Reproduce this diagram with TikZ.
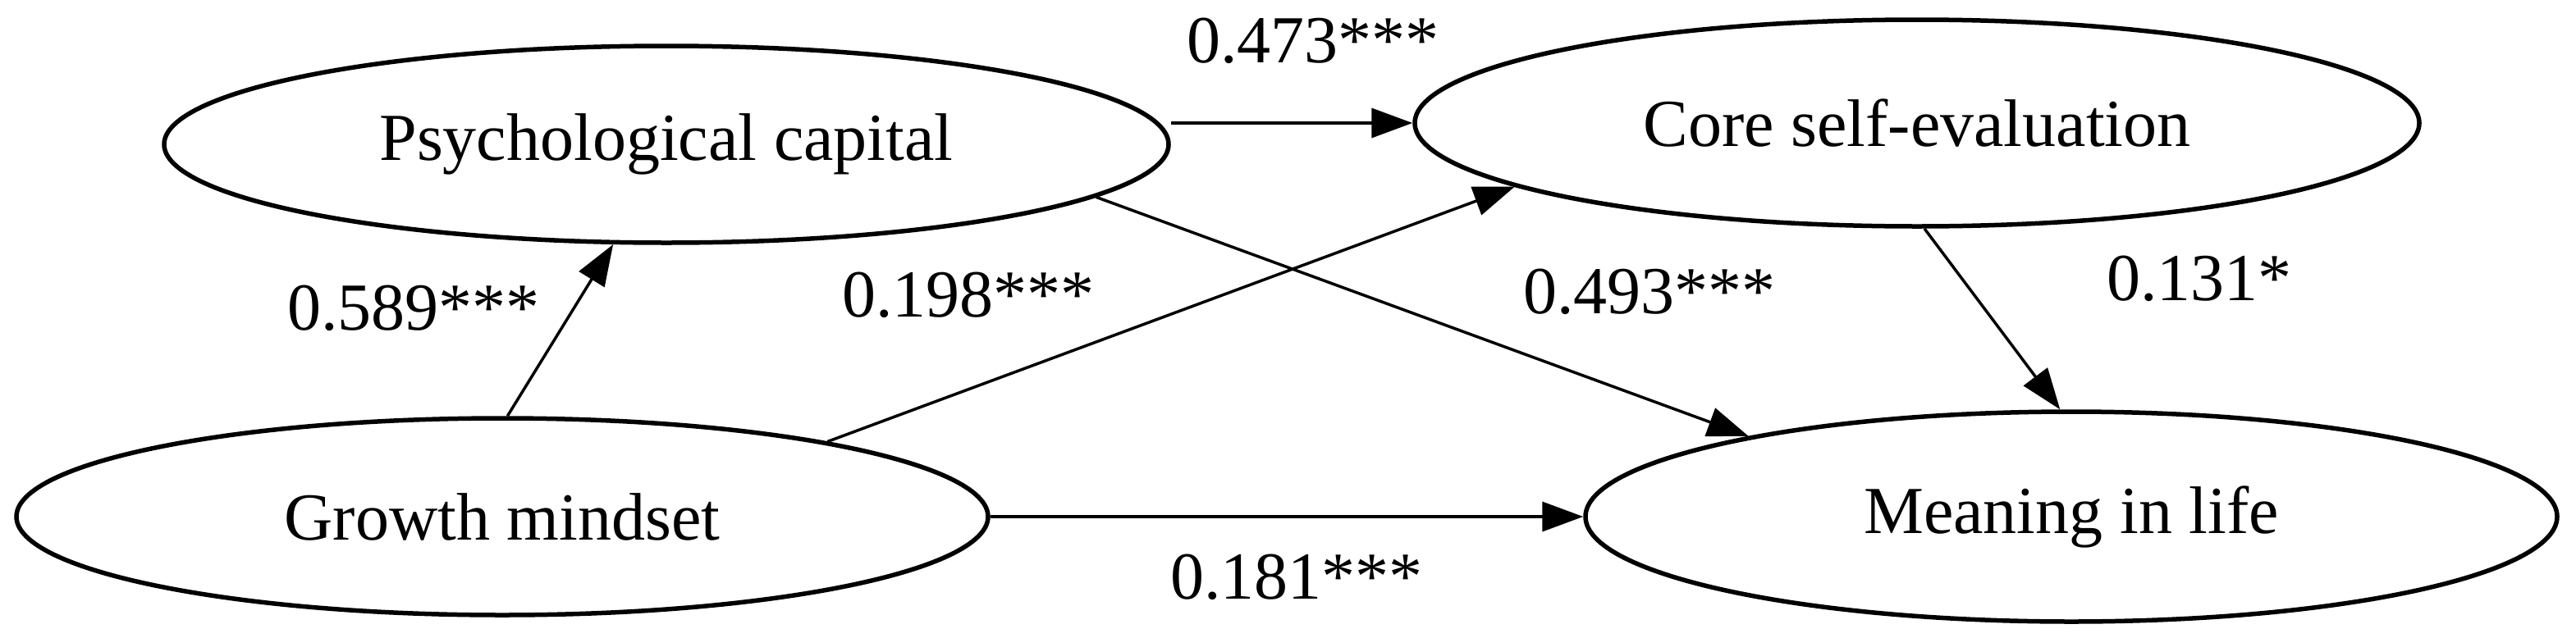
\documentclass[tikz,border=0pt]{standalone}
\usepackage{fontspec}
\setmainfont{Liberation Serif}
\usetikzlibrary{arrows.meta,shapes.geometric}
\begin{document}
\begin{tikzpicture}[x=2pt,y=-2pt,
  lv/.style={ellipse,draw,line width=5.5pt,inner sep=0pt,font=\fontsize{82}{90}\selectfont},
  ar/.style={line width=3.5pt,-{Triangle[length=50pt,width=36pt]}},
  lb/.style={font=\fontsize{82}{90}\selectfont}]
\useasboundingbox (0,0) rectangle (1569.5,388.5);
\node[lv,minimum width=612pt*2,minimum height=120pt*2] (p) at (406,88) {Psychological capital};
\node[lv,minimum width=612pt*2,minimum height=126pt*2] (c) at (1168,75) {Core self-evaluation};
\node[lv,minimum width=592pt*2,minimum height=120pt*2] (g) at (306,315) {Growth mindset};
\node[lv,minimum width=592pt*2,minimum height=128pt*2] (m) at (1262,315) {Meaning in life};
\draw[ar] (p.east |- c.west) -- (c.west);
\draw[ar] (g.87) -- (p.242);
\draw[ar] (g.13) -- (c.189);
\draw[ar] (p.-7) -- (m.166);
\draw[ar] (c.-86) -- (m.96);
\draw[ar] (g.east) -- (m.west);
\node[lb] (l1) at (800,25) {0.473***};
\node[lb] (l2) at (252,188) {0.589***};
\node[lb] (l3) at (590,180) {0.198***};
\node[lb] (l4) at (1005,178) {0.493***};
\node[lb] (l5) at (1340,170) {0.131*};
\node[lb] (l6) at (790,352) {0.181***};
\end{tikzpicture}
\end{document}
